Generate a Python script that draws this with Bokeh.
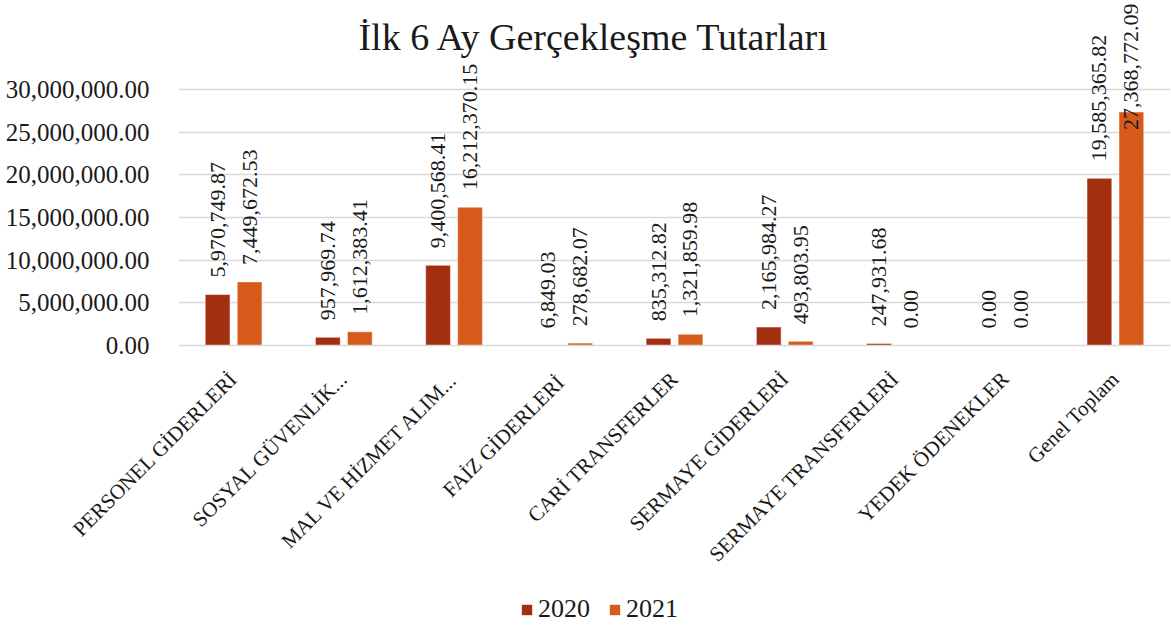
import math
from bokeh.plotting import figure
from bokeh.layouts import column
from bokeh.models import (ColumnDataSource, FactorRange, Range1d, FixedTicker, NumeralTickFormatter,
                          LabelSet, Legend, LegendItem, Label)
from bokeh.transform import dodge
from bokeh.embed import file_html
from bokeh.resources import INLINE

# ---- data ----
categories = ["PERSONEL GİDERLERİ", "SOSYAL GÜVENLİK...", "MAL VE HİZMET ALIM...", "FAİZ  GİDERLERİ",
              "CARİ TRANSFERLER", "SERMAYE GİDERLERİ", "SERMAYE TRANSFERLERİ", "YEDEK ÖDENEKLER",
              "Genel Toplam"]
values_2020 = [5970749.87, 957969.74, 9400568.41, 6849.03, 835312.82, 2165984.27, 247931.68, 0.00, 19585365.82]
values_2021 = [7449672.53, 1612383.41, 16212370.15, 278682.07, 1321859.98, 493803.95, 0.00, 0.00, 27368772.09]
series_names = ["2020", "2021"]
y_ticks = [0, 5000000, 10000000, 15000000, 20000000, 25000000, 30000000]
title_text = "İlk 6 Ay Gerçekleşme Tutarları"

# ---- style / layout ----
COLORS = ["#A32E10", "#D65A1A"]
SERIF = "Liberation Serif"
SANS = "Open Sans"
W = 1171
H_MAIN, H_LEG = 588, 42
FRAME_LEFT = 178
FRAME_H = 345                   # frame from figure top down to the zero line
TICK_SPAN_PX = 256              # pixels between 0 and last tick
UPP = y_ticks[-1] / TICK_SPAN_PX
Y_END = FRAME_H * UPP
LABEL_SIZE = 22
LABEL_GAP = 17
OFFS = [-0.145, 0.145]
BAR_W = 0.225

p = figure(width=W, height=H_MAIN, x_range=FactorRange(factors=categories, range_padding=0),
           y_range=Range1d(0, Y_END), output_backend="svg", toolbar_location=None,
           min_border_left=FRAME_LEFT, min_border_right=1, min_border_top=0,
           min_border_bottom=H_MAIN - FRAME_H)
p.outline_line_color = None
p.background_fill_color = "white"
p.border_fill_color = "white"

# axes
p.yaxis.ticker = FixedTicker(ticks=y_ticks)
p.yaxis.formatter = NumeralTickFormatter(format="0,0.00")
p.yaxis.axis_line_color = None
p.yaxis.major_tick_line_color = None
p.yaxis.minor_tick_line_color = None
p.yaxis.major_label_standoff = 23
p.yaxis.major_label_text_font = SERIF
p.yaxis.major_label_text_font_size = "25px"
p.yaxis.major_label_text_color = "#1a1a1a"

p.xaxis.axis_line_color = "#D9D9D9"
p.xaxis.axis_line_width = 1.5
p.xaxis.major_tick_line_color = None
p.xaxis.minor_tick_line_color = None
p.xaxis.major_label_orientation = math.pi / 4
p.xaxis.major_label_standoff = 24
p.xaxis.major_label_text_font = SERIF
p.xaxis.major_label_text_font_size = "21px"
p.xaxis.major_label_text_color = "#1a1a1a"

p.xgrid.grid_line_color = None
p.ygrid.grid_line_color = "#D9D9D9"
p.ygrid.grid_line_width = 1.5
p.ygrid.ticker = FixedTicker(ticks=y_ticks)

# legend strip below the chart
p2 = figure(width=W, height=H_LEG, x_range=Range1d(0, 1), y_range=Range1d(0, 1),
            output_backend="svg", toolbar_location=None, min_border=0)
p2.axis.visible = False
p2.grid.visible = False
p2.outline_line_color = None

# bars + labels
ceiling = Y_END - 3 * UPP
items = []
for vals, name, color, off in zip([values_2020, values_2021], series_names, COLORS, OFFS):
    texts = [f"{v:,.2f}" for v in vals]
    ys, aligns = [], []
    for v, t in zip(vals, texts):
        est_len = len(t) * 0.55 * LABEL_SIZE
        top_px = (Y_END - v) / UPP   # px from frame top to bar top
        if top_px - LABEL_GAP - est_len < 0:
            ys.append(ceiling - LABEL_GAP * UPP); aligns.append("right")
        else:
            ys.append(v); aligns.append("left")
    src = ColumnDataSource(dict(cat=categories, val=vals, text=texts, ly=ys, align=aligns))
    p.vbar(x=dodge("cat", off, range=p.x_range), top="val", width=BAR_W, source=src,
           fill_color=color, line_color="white", line_alpha=0.5, line_width=1)
    labels = LabelSet(x=dodge("cat", off, range=p.x_range), y="ly", text="text", source=src,
                      angle=math.pi / 2, text_align={"field": "align"}, text_baseline="middle",
                      y_offset=LABEL_GAP, text_font=SANS,
                      text_font_size=f"{LABEL_SIZE}px", text_color="#1a1a1a")
    p.add_layout(labels)
    # zero-height key renderer, used only for the legend swatch
    lr = p2.vbar(x=[0], top=[0], bottom=[0], width=0.0, fill_color=color, line_color=None)
    items.append(LegendItem(label=name, renderers=[lr]))

# title inside the top of the frame
title = Label(x=416, y=FRAME_H - 36, x_units="screen", y_units="screen", text=title_text,
              text_font=SERIF, text_font_size="38px", text_color="#1a1a1a",
              text_align="center", text_baseline="alphabetic")
p.add_layout(title)

legend = Legend(items=items, orientation="horizontal", location=(342, 6),
                border_line_color=None, background_fill_alpha=0,
                label_text_font=SERIF, label_text_font_size="26px", label_text_color="#1a1a1a",
                glyph_width=13, glyph_height=13, label_standoff=5, spacing=18,
                padding=0, margin=0)
p2.add_layout(legend)

layout = column(p, p2, spacing=0)
open("out.html", "w").write(file_html(layout, INLINE))
